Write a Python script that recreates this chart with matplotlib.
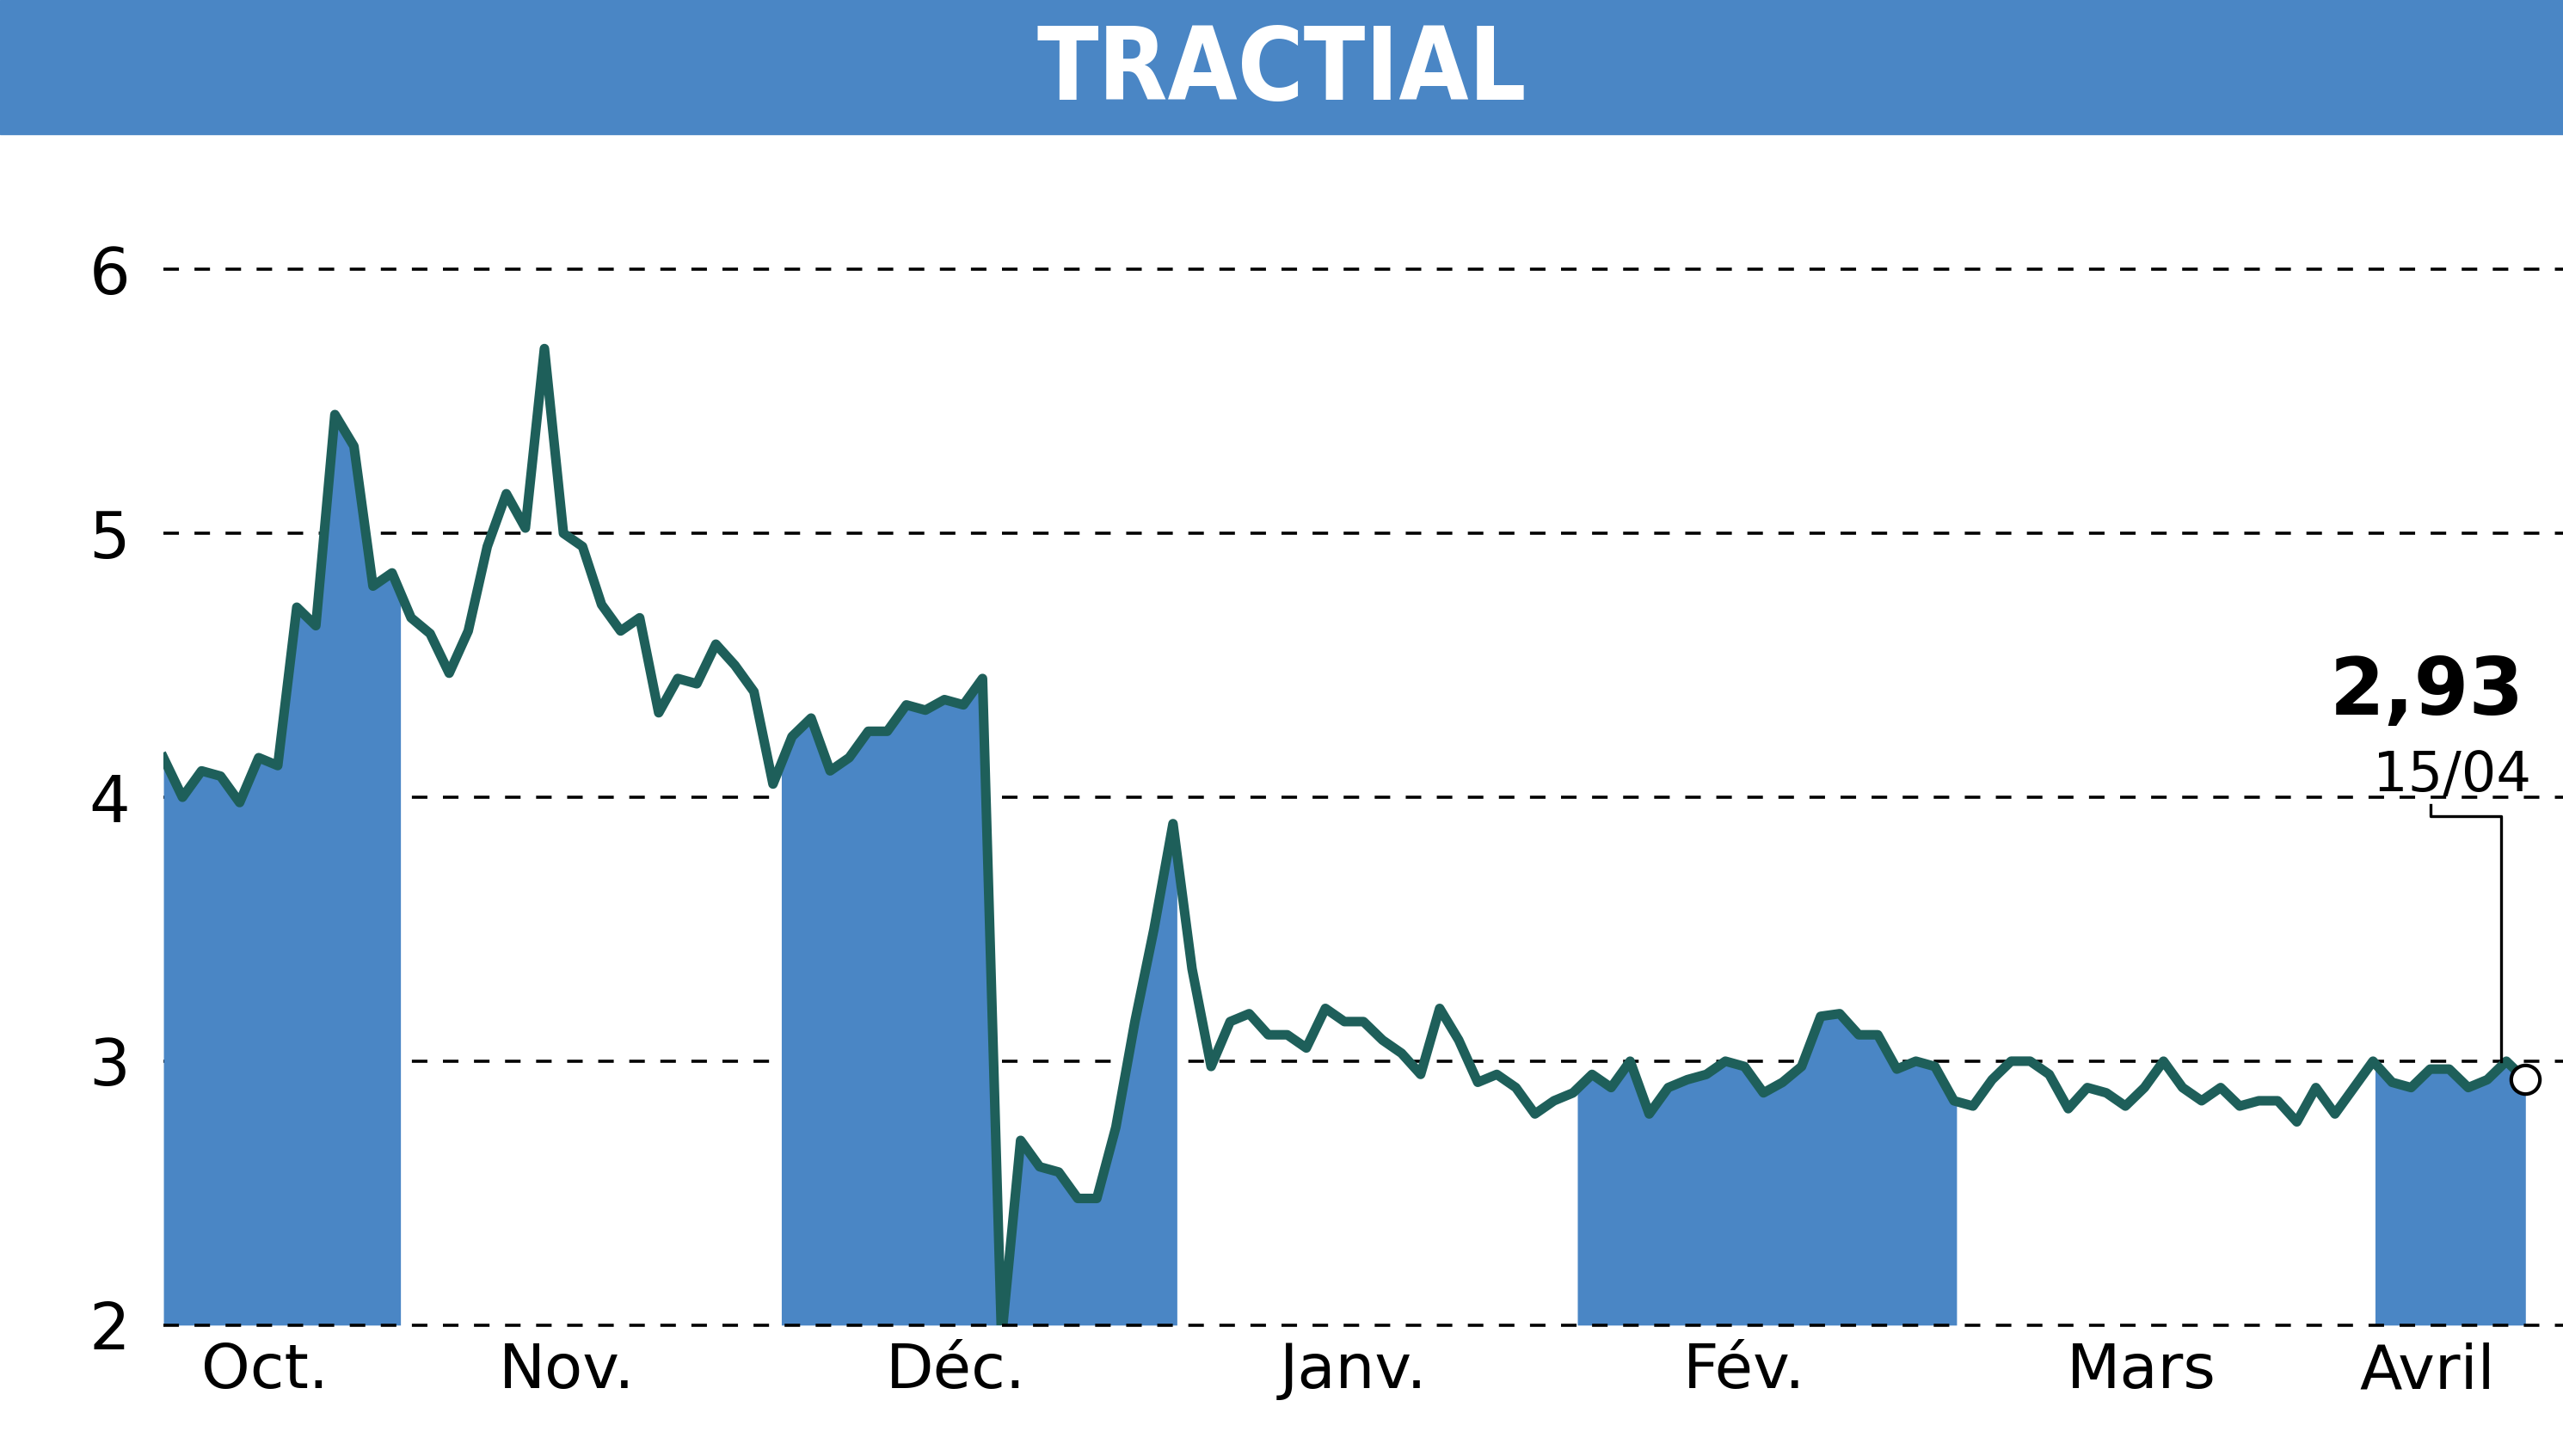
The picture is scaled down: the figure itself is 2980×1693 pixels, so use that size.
import matplotlib
matplotlib.use("Agg")
import matplotlib.pyplot as plt
import numpy as np

values = [4.15,4.0,4.1,4.08,3.98,4.15,4.12,4.72,4.65,5.45,5.33,4.8,4.85,4.68,4.62,4.47,4.63,4.95,5.15,5.02,
          5.7,5.0,4.95,4.73,4.63,4.68,4.32,4.45,4.43,4.58,4.5,4.4,4.05,4.23,4.3,4.1,4.15,4.25,4.25,4.35,
          4.33,4.37,4.35,4.45,1.95,2.7,2.6,2.58,2.48,2.48,2.75,3.15,3.5,3.9,3.35,2.98,3.15,3.18,3.1,3.1,
          3.05,3.2,3.15,3.15,3.08,3.03,2.95,3.2,3.08,2.92,2.95,2.9,2.8,2.85,2.88,2.95,2.9,3.0,2.8,2.9,
          2.93,2.95,3.0,2.98,2.88,2.92,2.98,3.17,3.18,3.1,3.1,2.97,3.0,2.98,2.85,2.83,2.93,3.0,3.0,2.95,
          2.82,2.9,2.88,2.83,2.9,3.0,2.9,2.85,2.9,2.83,2.85,2.85,2.77,2.9,2.8,2.9,3.0,2.92,2.9,2.97,
          2.97,2.9,2.93,3.0,2.93]
months = ["Oct.", "Nov.", "Déc.", "Janv.", "Fév.", "Mars", "Avril"]
month_px = [162, 347, 585, 828, 1067, 1310, 1485]
shade_px = [(100, 245), (478, 720), (965, 1197), (1453, 1545)]
last_label = "2,93"
last_date = "15/04"

N = len(values)
x = np.arange(N)
def px2x(p):
    return (p - 100) * (N - 1) / 1445.0

blue = "#4a86c5"
line_c = "#1e5f5a"
font = ["DejaVu Sans"]

fig = plt.figure(figsize=(29.8, 16.93), dpi=100)
fig.patches.append(plt.Rectangle((0, 1 - 82/890), 1, 82/890, transform=fig.transFigure, color=blue, zorder=0))
fig.text(0.5, 1 - 44/890, "TRACTIAL", ha="center", va="center", color="white",
         fontsize=84, fontweight="bold", family=font, fontstretch="condensed")

ax = fig.add_axes([100/1568, 1 - 810/890, 1468/1568, (810 - 84)/890])
ax.set_xlim(0, px2x(1568))
ax.set_ylim(2, 6.5)
for s in ax.spines.values():
    s.set_visible(False)
for yv in [2, 3, 4, 5, 6]:
    ax.axhline(yv, color="black", lw=2.6, ls=(0, (5, 5)), zorder=4 if yv == 2 else 1, clip_on=False)

for a, b in shade_px:
    i0, i1 = px2x(a), px2x(b)
    xs = np.concatenate([[i0], x[(x > i0) & (x < i1)], [i1]])
    ys = np.interp(xs, x, values)
    ax.fill_between(xs, 2, ys, color=blue, lw=0, zorder=2)

ax.plot(x, values, color=line_c, lw=8, zorder=3, solid_joinstyle="round")
ax.plot(x[-1], values[-1], "o", ms=24, mfc="white", mec="black", mew=3, zorder=5)

ax.set_yticks([2, 3, 4, 5, 6])
ax.set_yticklabels(["2", "3", "4", "5", "6"], family=font, fontsize=54)
ax.set_xticks([px2x(p) for p in month_px])
ax.set_xticklabels(months, family=font, fontsize=52)
ax.tick_params(length=0, pad=14)
ax.tick_params(axis="y", pad=28)

ax.text(px2x(1485), 4.25, last_label, ha="center", va="bottom", fontsize=66, fontweight="bold", family=font)
ax.text(px2x(1500), 3.98, last_date, ha="center", va="bottom", fontsize=46, family=font)
ax.plot([px2x(1487), px2x(1487), px2x(1530), px2x(1530)], [3.97, 3.93, 3.93, values[-1] + 0.07],
        color="black", lw=2.4, zorder=4)

fig.savefig("out.png", dpi=100)
